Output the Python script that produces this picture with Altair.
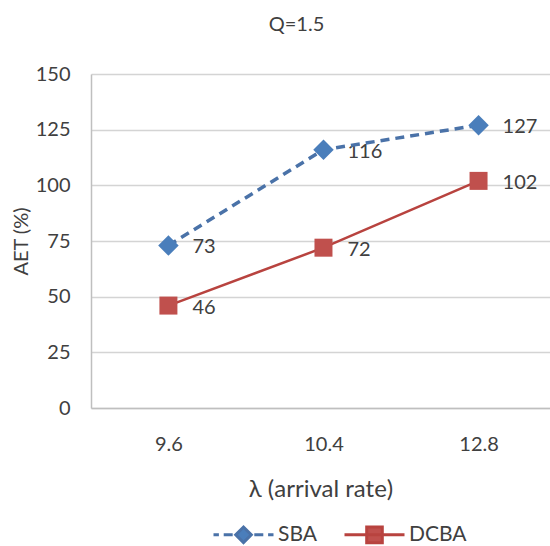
import altair as alt
import pandas as pd

# ---- data ----
lam_labels = ["9.6", "10.4", "12.8"]
series_names = ["SBA", "DCBA"]
sba_values = [73, 116, 127]
dcba_values = [46, 72, 102]

rows = []
for lab, v in zip(lam_labels, sba_values):
    rows.append({"lam": lab, "value": v, "series": "SBA"})
for lab, v in zip(lam_labels, dcba_values):
    rows.append({"lam": lab, "value": v, "series": "DCBA"})
df = pd.DataFrame(rows)

FONT = "Lato"
TXT = "#404040"
BLUE_LINE = "#4A72A8"
BLUE = "#4A7EBB"
RED = "#C0504D"
RED_LINE = "#B8433F"

x_enc = alt.X(
    "lam:N",
    sort=lam_labels,
    scale=alt.Scale(type="point", padding=0.48, align=0.52),
    axis=alt.Axis(
        title="λ (arrival rate)",
        titleFontSize=24,
        labelAngle=0,
        ticks=False,
        tickSize=0,
        labelPadding=26,
        titlePadding=23,
        grid=False,
        domainColor="#BFBFBF",
        domainWidth=1.5,
    ),
)
y_enc = alt.Y(
    "value:Q",
    scale=alt.Scale(domain=[0, 150], nice=False, zero=True),
    axis=alt.Axis(
        title="AET (%)",
        values=[0, 25, 50, 75, 100, 125, 150],
        ticks=False,
        tickSize=0,
        labelPadding=21,
        titlePadding=4,
        grid=True,
        gridColor="#D4D4D4",
        gridWidth=1.5,
        domainColor="#BFBFBF",
        domainWidth=1.5,
    ),
)

base = alt.Chart(df).encode(x=x_enc, y=y_enc)

sba = base.transform_filter(alt.datum.series == "SBA")
dcba = base.transform_filter(alt.datum.series == "DCBA")

labels = base.mark_text(
    align="left", baseline="middle", dx=24, dy=2, font=FONT, fontSize=20, color=TXT
).encode(text="value:Q")

sba_line = sba.mark_line(color=BLUE_LINE, strokeWidth=3.5, strokeDash=[9, 6])
dcba_line = dcba.mark_line(color=RED_LINE, strokeWidth=2.5)
sba_pts = sba.mark_point(shape="diamond", filled=True, size=420, color=BLUE, opacity=1)
dcba_pts = dcba.mark_point(shape="square", filled=True, size=324, color=RED, opacity=1)

# legend layer (no drawn marks, only the legend from explicit domains)
sba_sym = "M-1,0H-0.82M-0.66,0H-0.36M0.36,0H0.66M0.82,0H1M-0.26,0L0,-0.26L0.26,0L0,0.26Z"
dcba_sym = "M-1,0H1M-0.26,-0.26H0.26V0.26H-0.26Z"
leg = alt.Legend(
    title=None,
    orient="none",
    legendX=121,
    legendY=429,
    direction="horizontal",
    symbolSize=3600,
    symbolStrokeWidth=3,
    symbolOpacity=1,
    labelFont=FONT,
    labelFontSize=21,
    labelColor=TXT,
    labelOffset=3,
    columnPadding=21,
)
legend_layer = alt.Chart(df).transform_filter("false").mark_point(opacity=1).encode(
    x=alt.X("lam:N", sort=lam_labels),
    y="value:Q",
    shape=alt.Shape("series:N", scale=alt.Scale(domain=series_names, range=[sba_sym, dcba_sym]), legend=leg),
    fill=alt.Fill("series:N", scale=alt.Scale(domain=series_names, range=[BLUE, RED]), legend=leg),
    stroke=alt.Stroke("series:N", scale=alt.Scale(domain=series_names, range=[BLUE_LINE, RED_LINE]), legend=leg),
)

chart = (
    alt.layer(labels, sba_line, dcba_line, sba_pts, dcba_pts, legend_layer)
    .properties(
        width=459,
        height=334,
        background="white",
        autosize=alt.AutoSizeParams(type="none"),
        padding={"left": 91, "top": 74, "right": 0, "bottom": 138},
        title=alt.TitleParams(
            "Q=1.5",
            font=FONT,
            fontSize=20,
            fontWeight="normal",
            color=TXT,
            anchor="middle",
            dx=-24,
            baseline="alphabetic",
            offset=13,
        ),
    )
    .configure_axis(
        labelFont=FONT,
        labelFontSize=20,
        labelColor=TXT,
        titleFont=FONT,
        titleFontSize=20,
        titleFontWeight="normal",
        titleColor=TXT,
    )
    .configure_view(stroke=None)
)

chart.save("out.html", embed_options={"renderer": "svg", "actions": False})
